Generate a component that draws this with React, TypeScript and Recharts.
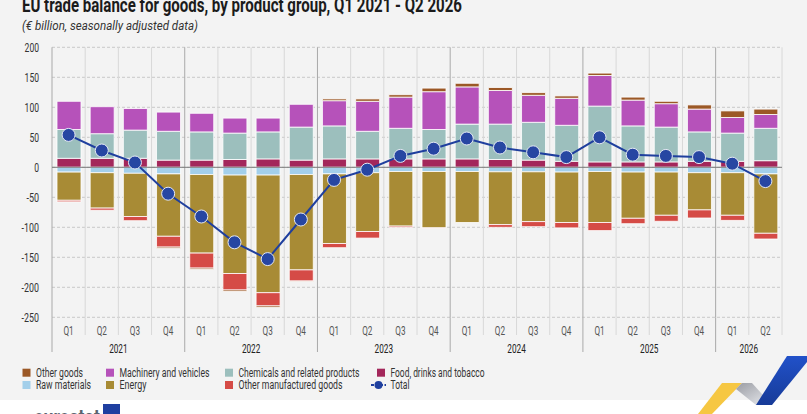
import { Bar, CartesianGrid, ComposedChart, Line, ReferenceLine, XAxis, YAxis } from "recharts";

const quarters = ["Q1", "Q2", "Q3", "Q4", "Q1", "Q2", "Q3", "Q4", "Q1", "Q2", "Q3", "Q4", "Q1", "Q2", "Q3", "Q4", "Q1", "Q2", "Q3", "Q4", "Q1", "Q2"];
const years = ["2021", "2021", "2021", "2021", "2022", "2022", "2022", "2022", "2023", "2023", "2023", "2023", "2024", "2024", "2024", "2024", "2025", "2025", "2025", "2025", "2026", "2026"];

// € billion
const food = [15, 15, 15, 12, 12, 13, 14, 12, 14, 14, 14, 14, 14, 13, 12, 10, 9, 9, 9, 10, 10, 11];
const chemicals = [48, 41, 47, 48, 47, 44, 45, 55, 55, 46, 51, 49, 58, 59, 63, 60, 93, 60, 58, 49, 47, 54];
const machinery = [47, 45, 36, 32, 31, 25, 23, 38, 42, 50, 52, 63, 62, 56, 45, 45, 51, 43, 39, 38, 26, 23];
const otherGoods = [0, 0, 0, -2, -2, -2.5, -2.5, -1, 3, 4, 4, 6, 6, 5, 4.5, 4, 4, 5, 4, 7, 11, 9];
const rawMaterials = [-8, -9, -10, -11, -12, -13, -13, -12, -11, -9, -7, -7, -7, -7.5, -7.5, -8, -7, -8, -8, -9, -9, -11];
const energy = [-47, -59, -72, -104, -131, -164, -196, -159, -116, -98, -91, -94, -85, -88, -83, -84, -85, -77, -72, -62, -71, -99];
const otherManufactured = [-2.5, -3.5, -7, -18, -25, -27.5, -22, -18.5, -7, -11, -2, -0.5, 0, -4.5, -8.5, -9, -13.5, -9, -10, -13.5, -8.5, -9.5];
const total = [54, 28, 8, -44, -82, -125, -153, -87, -21, -4, 19, 31, 48, 33, 25, 17, 50, 21, 19, 17, 6, -23];

const yTicks = [-250, -200, -150, -100, -50, 0, 50, 100, 150, 200];

const data = quarters.map((q, i) => ({
  q,
  year: years[i],
  food: food[i],
  raw: rawMaterials[i],
  chemicals: chemicals[i],
  energy: energy[i],
  machinery: machinery[i],
  otherManufactured: otherManufactured[i],
  otherGoods: otherGoods[i],
  total: total[i],
}));

const FONT = 'Roboto, "Noto Sans", sans-serif';

const C = {
  otherGoods: "#9b5826",
  machinery: "#b652ba",
  chemicals: "#9cbfbd",
  food: "#a3275b",
  raw: "#a3cfea",
  energy: "#a88b35",
  otherManufactured: "#d54b46",
  total: "#1f3f9e",
};

const W = 807;
const H = 414;
const TOP = 47.3;
const LEFT = 52;
const RIGHT = 25;
const PLOT_BOTTOM = 317.3;
const X_AXIS_H = 40;
const PLOT_W = W - LEFT - RIGHT;
const BW = PLOT_W / data.length;

// the reference uses a condensed face; squeeze Roboto to the same widths
const squeeze = (s: string, perChar: number) => s.length * perChar;

const boundaries = (offset: any) => {
  const left = offset?.left ?? LEFT;
  const width = offset?.width ?? PLOT_W;
  return { left, bw: width / data.length };
};

function QuarterTick(props: any) {
  const { x, payload } = props;
  const i: number = props.index ?? payload.index;
  const yr = years[i];
  const first = years.indexOf(yr);
  const count = years.filter((y) => y === yr).length;
  const isYearStart = i === first;
  const isLast = i === data.length - 1;
  return (
    <g>
      <line x1={x - BW / 2} x2={x - BW / 2} y1={PLOT_BOTTOM} y2={isYearStart ? 352 : 335} stroke={isYearStart ? "#a9a9a9" : "#d8d8d8"} />
      {isLast && <line x1={x + BW / 2} x2={x + BW / 2} y1={PLOT_BOTTOM} y2={335} stroke="#d8d8d8" />}
      <text x={x} y={334.5} textAnchor="middle" fill="#555" fontSize={13} fontFamily={FONT} textLength={squeeze(payload.value, 5.1)} lengthAdjust="spacingAndGlyphs">
        {payload.value}
      </text>
      {isYearStart && (
        <text x={x + ((count - 1) / 2) * BW} y={352.5} textAnchor="middle" fill="#222" fontSize={13} fontFamily={FONT} textLength={squeeze(yr, 4.6)} lengthAdjust="spacingAndGlyphs">
          {yr}
        </text>
      )}
    </g>
  );
}

function ValueTick(props: any) {
  const { x, y, payload } = props;
  const s = String(payload.value);
  const len = s.replace("-", "").length * 4.8 + (s.startsWith("-") ? 3 : 0);
  return (
    <text x={x} y={y + 4.5} textAnchor="end" fill="#333" fontSize={13} fontFamily={FONT} textLength={len} lengthAdjust="spacingAndGlyphs">
      {s}
    </text>
  );
}

const legendItems = [
  { label: "Other goods", color: C.otherGoods, col: 0, row: 0, w: 47 },
  { label: "Machinery and vehicles", color: C.machinery, col: 1, row: 0, w: 90 },
  { label: "Chemicals and related products", color: C.chemicals, col: 2, row: 0, w: 121 },
  { label: "Food, drinks and tobacco", color: C.food, col: 3, row: 0, w: 94 },
  { label: "Raw materials", color: C.raw, col: 0, row: 1, w: 55 },
  { label: "Energy", color: C.energy, col: 1, row: 1, w: 27 },
  { label: "Other manufactured goods", color: C.otherManufactured, col: 2, row: 1, w: 104 },
  { label: "Total", color: C.total, col: 3, row: 1, w: 19, line: true },
];
const legendCols = [22.5, 106, 225, 377];

export default function App() {
  return (
    <div style={{ position: "relative", width: W, height: H, background: "#f3f3f3", overflow: "hidden", fontFamily: FONT }}>
      <style>{`body{margin:0}`}</style>
      <div style={{ position: "absolute", left: 0, top: 400, width: W, height: H - 400, background: "#fff" }} />

      <div style={{ position: "absolute", left: 0, top: 0 }}>
        <ComposedChart
          width={W}
          height={H}
          data={data}
          stackOffset="sign"
          barSize={24}
          margin={{ top: TOP, right: RIGHT, left: 0, bottom: H - PLOT_BOTTOM - X_AXIS_H }}
        >
          <CartesianGrid stroke="#c9c9c9" strokeDasharray="3 2" vertical={false} />
          <CartesianGrid
            stroke="#d8d8d8"
            horizontal={false}
            verticalCoordinatesGenerator={({ offset }: any) => {
              const { left, bw } = boundaries(offset);
              return data
                .map((_, i) => left + i * bw)
                .concat(left + data.length * bw)
                .filter((_, i) => quarters[i] !== "Q1");
            }}
          />
          <CartesianGrid
            stroke="#a9a9a9"
            horizontal={false}
            verticalCoordinatesGenerator={({ offset }: any) => {
              const { left, bw } = boundaries(offset);
              return data.map((_, i) => left + i * bw).filter((_, i) => quarters[i] === "Q1");
            }}
          />
          <XAxis dataKey="q" interval={0} tickLine={false} axisLine={false} height={X_AXIS_H} tick={<QuarterTick />} />
          <YAxis
            width={LEFT}
            domain={[-250, 200]}
            ticks={yTicks}
            interval={0}
            tickLine={false}
            axisLine={false}
            tickMargin={7}
            tick={<ValueTick />}
          />
          <Bar dataKey="food" stackId="a" fill={C.food} stroke="#fff" strokeWidth={0.8} isAnimationActive={false} />
          <Bar dataKey="raw" stackId="a" fill={C.raw} stroke="#fff" strokeWidth={0.8} isAnimationActive={false} />
          <Bar dataKey="chemicals" stackId="a" fill={C.chemicals} stroke="#fff" strokeWidth={0.8} isAnimationActive={false} />
          <Bar dataKey="energy" stackId="a" fill={C.energy} stroke="#fff" strokeWidth={0.8} isAnimationActive={false} />
          <Bar dataKey="machinery" stackId="a" fill={C.machinery} stroke="#fff" strokeWidth={0.8} isAnimationActive={false} />
          <Bar dataKey="otherManufactured" stackId="a" fill={C.otherManufactured} stroke="#fff" strokeWidth={0.8} isAnimationActive={false} />
          <Bar dataKey="otherGoods" stackId="a" fill={C.otherGoods} stroke="#fff" strokeWidth={0.8} isAnimationActive={false} />
          <ReferenceLine y={0} stroke="#7a7a7a" strokeWidth={1} />
          <Line
            dataKey="total"
            stroke={C.total}
            strokeWidth={2}
            dot={{ r: 6.5, fill: "#2746a2", stroke: "#e4e8f4", strokeWidth: 1 }}
            isAnimationActive={false}
          />
        </ComposedChart>
      </div>

      <svg width={W} height={H} style={{ position: "absolute", left: 0, top: 0, pointerEvents: "none" }} fontFamily={FONT}>
        <text x={22} y={11.5} fontSize={20} fontWeight={700} fill="#1b1b1b" textLength={440} lengthAdjust="spacingAndGlyphs">
          EU trade balance for goods, by product group, Q1 2021 - Q2 2026
        </text>
        <text x={22} y={29.5} fontSize={12.5} fontStyle="italic" fill="#333" textLength={176} lengthAdjust="spacingAndGlyphs">
          (€ billion, seasonally adjusted data)
        </text>

        {legendItems.map((it) => {
          const x = legendCols[it.col];
          const cy = it.row === 0 ? 372.7 : 385;
          return (
            <g key={it.label}>
              {it.line ? (
                <g>
                  <line x1={x - 6} x2={x + 9} y1={cy} y2={cy} stroke={it.color} strokeWidth={2} strokeDasharray="3 1.5" />
                  <circle cx={x + 1.5} cy={cy} r={4} fill={it.color} />
                </g>
              ) : (
                <rect x={x} y={cy - 4} width={8} height={8} fill={it.color} />
              )}
              <text x={x + 13.5} y={cy + 4.3} fontSize={12.5} fill="#333" textLength={it.w} lengthAdjust="spacingAndGlyphs">
                {it.label}
              </text>
            </g>
          );
        })}

        <text x={34} y={425} fontSize={22} fontWeight={700} fill="#5a6470" textLength={66} lengthAdjust="spacingAndGlyphs">
          eurostat
        </text>
        <rect x={103} y={404} width={17} height={12} fill="#1f3fa0" />

        <defs>
          <linearGradient id="grayRib" x1="0" y1="0" x2="1" y2="1">
            <stop offset="0%" stopColor="#9a9ca3" />
            <stop offset="100%" stopColor="#eceef2" />
          </linearGradient>
          <linearGradient id="blueRib" x1="0" y1="0" x2="0" y2="1">
            <stop offset="0%" stopColor="#2151c9" />
            <stop offset="100%" stopColor="#173b98" />
          </linearGradient>
        </defs>
        <polygon points="722,383 742,383 712,414 698,414" fill="#f6c742" />
        <polygon points="742,383 752,383 772,405 756,405 736,389" fill="url(#grayRib)" />
        <polygon points="787,356 807,356 807,362 772,405 756,405" fill="url(#blueRib)" />
      </svg>
    </div>
  );
}
